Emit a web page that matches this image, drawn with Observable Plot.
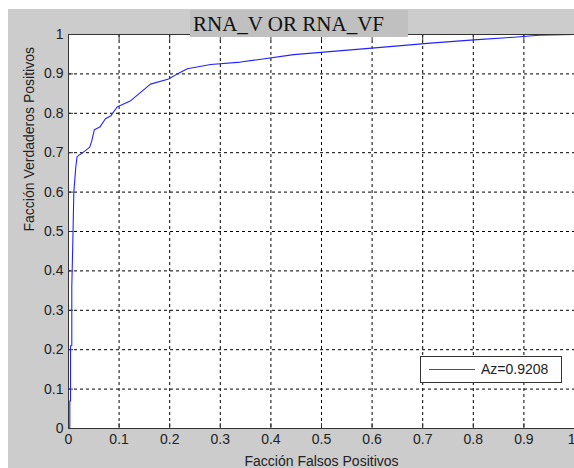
<!DOCTYPE html>
<html><head><meta charset="utf-8">
<script src="https://cdn.jsdelivr.net/npm/d3@7"></script>
<script src="https://cdn.jsdelivr.net/npm/@observablehq/plot@0.6"></script>
<style>
html,body{margin:0;padding:0;background:#fff;}
#wrap{position:relative;width:574px;height:468px;overflow:hidden;}
#bg{position:absolute;left:8px;top:9px;right:0;bottom:0;background:#cccccc;}
#chart{position:absolute;left:0;top:0;}
#title{position:absolute;left:190px;top:10px;width:218px;height:27px;background:#c0c0c0;font:21px "Liberation Serif",serif;line-height:28px;padding-left:3px;box-sizing:border-box;color:#111;white-space:nowrap;}
#legend{position:absolute;left:420px;top:356px;width:142px;height:27px;box-sizing:border-box;border:1px solid #333;background:#fff;font:14px "Liberation Sans",Arial,sans-serif;color:#222;}
#legend .swatch{position:absolute;left:8px;top:12px;width:46px;height:0;border-top:1px solid #3a3aff;}
#legend .lab{position:absolute;left:60px;top:0;line-height:25px;}
</style></head>
<body>
<div id="wrap">
  <div id="bg"></div>
  <div id="chart"></div>
  <div id="title"></div>
  <div id="legend"><div class="swatch"></div><div class="lab"></div></div>
</div>
<script>
const titleText = "RNA_V OR RNA_VF";
const xLabel = "Facción Falsos Positivos";
const yLabel = "Facción Verdaderos Positivos";
const legendText = "Az=0.9208";
const xTicks = [0, 0.1, 0.2, 0.3, 0.4, 0.5, 0.6, 0.7, 0.8, 0.9, 1];
const yTicks = [0, 0.1, 0.2, 0.3, 0.4, 0.5, 0.6, 0.7, 0.8, 0.9, 1];
const fpr = [0, 0.0026, 0.0026, 0.004, 0.004, 0.0065, 0.0065, 0.009, 0.0105, 0.013, 0.0145, 0.017, 0.022, 0.027, 0.042, 0.046, 0.051, 0.062, 0.073, 0.084, 0.096, 0.123, 0.162, 0.198, 0.215, 0.235, 0.281, 0.34, 0.445, 0.623, 0.715, 0.808, 0.88, 0.93, 1];
const tpr = [0, 0, 0.07, 0.07, 0.21, 0.21, 0.36, 0.50, 0.60, 0.64, 0.665, 0.69, 0.695, 0.699, 0.714, 0.73, 0.758, 0.765, 0.786, 0.794, 0.816, 0.832, 0.874, 0.887, 0.9, 0.913, 0.924, 0.93, 0.949, 0.968, 0.978, 0.987, 0.993, 0.998, 1];

document.getElementById("title").textContent = titleText;
document.querySelector("#legend .lab").textContent = legendText;

const fmt = d => String(d);
const font = "Liberation Sans, Arial, sans-serif";
const chart = Plot.plot({
  width: 574,
  height: 468,
  marginLeft: 68,
  marginRight: 0,
  marginTop: 34,
  marginBottom: 40,
  style: {background: "transparent", fontFamily: font, fontSize: "14px", color: "#222", overflow: "visible"},
  x: {domain: [0, 1]},
  y: {domain: [0, 1]},
  marks: [
    Plot.frame({fill: "white", stroke: null}),
    Plot.gridX(xTicks, {stroke: "#000", strokeOpacity: 1, strokeDasharray: "3,3"}),
    Plot.gridY(yTicks, {stroke: "#000", strokeOpacity: 1, strokeDasharray: "3,3"}),
    Plot.axisX(xTicks.slice(0, -1), {anchor: "bottom", tickSize: 0, tickPadding: 6, label: null, tickFormat: fmt, fill: "#222", fontSize: 14}),
    Plot.axisX(xTicks.slice(-1), {anchor: "bottom", tickSize: 0, tickPadding: 6, label: null, tickFormat: fmt, fill: "#222", fontSize: 14, textAnchor: "end", dx: 1}),
    Plot.axisY(yTicks, {anchor: "left", tickSize: 0, tickPadding: 5, label: null, tickFormat: fmt, fill: "#222", fontSize: 14}),
    Plot.axisX(xTicks, {anchor: "bottom", tickSize: -5, tickFormat: () => "", label: null, stroke: "#333"}),
    Plot.axisX(xTicks, {anchor: "top", tickSize: -5, tickFormat: () => "", label: null, stroke: "#333"}),
    Plot.axisY(yTicks, {anchor: "left", tickSize: -5, tickFormat: () => "", label: null, stroke: "#333"}),
    Plot.line({length: fpr.length}, {x: fpr, y: tpr, stroke: "#2323ff", strokeWidth: 1.1}),
    Plot.frame({stroke: "#333", strokeWidth: 1}),
    Plot.text([xLabel], {frameAnchor: "bottom", dy: 37, lineAnchor: "bottom", text: d => d, fontSize: 14, fill: "#222"}),
    Plot.text([yLabel], {frameAnchor: "left", dx: -35, rotate: -90, lineAnchor: "bottom", text: d => d, fontSize: 14, fill: "#222"})
  ]
});
document.getElementById("chart").appendChild(chart);
</script>
</body></html>
